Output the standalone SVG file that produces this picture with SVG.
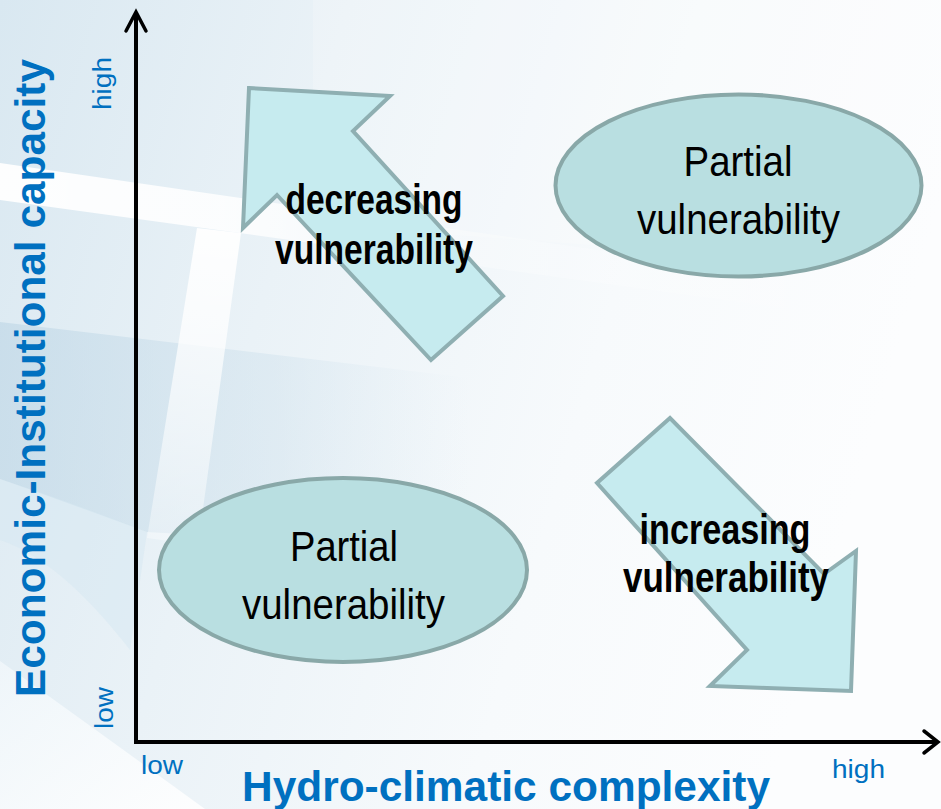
<svg xmlns="http://www.w3.org/2000/svg" width="941" height="809" viewBox="0 0 941 809">
  <defs>
    <linearGradient id="bgBase" x1="0" y1="0" x2="1" y2="0.25">
      <stop offset="0" stop-color="#D9E8F1"/>
      <stop offset="0.35" stop-color="#EAF2F7"/>
      <stop offset="0.7" stop-color="#F7FAFC"/>
      <stop offset="1" stop-color="#FCFDFE"/>
    </linearGradient>
    <linearGradient id="whiteBand" x1="0" y1="0" x2="1" y2="0">
      <stop offset="0" stop-color="#FFFFFF" stop-opacity="0.95"/>
      <stop offset="0.25" stop-color="#FFFFFF" stop-opacity="0.85"/>
      <stop offset="0.5" stop-color="#FFFFFF" stop-opacity="0.3"/>
      <stop offset="1" stop-color="#FFFFFF" stop-opacity="0"/>
    </linearGradient>
    <linearGradient id="whiteCol" x1="0" y1="0" x2="0" y2="1">
      <stop offset="0" stop-color="#FFFFFF" stop-opacity="0.95"/>
      <stop offset="1" stop-color="#FFFFFF" stop-opacity="0.35"/>
    </linearGradient>
    <linearGradient id="darkBand" x1="0" y1="0" x2="1" y2="0">
      <stop offset="0" stop-color="#BFD7E6" stop-opacity="0.65"/>
      <stop offset="0.6" stop-color="#C8DDEA" stop-opacity="0.35"/>
      <stop offset="1" stop-color="#D6E6F0" stop-opacity="0"/>
    </linearGradient>
    <linearGradient id="lightSweep" x1="0" y1="0" x2="1" y2="1">
      <stop offset="0" stop-color="#F4F9FC" stop-opacity="0.7"/>
      <stop offset="1" stop-color="#FFFFFF" stop-opacity="0.9"/>
    </linearGradient>
    <filter id="soft" x="-5%" y="-5%" width="110%" height="110%">
      <feGaussianBlur stdDeviation="0.6"/>
    </filter>
  </defs>

  <style>
    .axis { stroke: #000000; stroke-width: 4; fill: none; }
    .axis-head { stroke: #000000; stroke-width: 3.5; fill: none; stroke-linecap: round; stroke-linejoin: miter; }
    .block-arrow { fill: #C6EBEF; stroke: #8FAFB2; stroke-width: 4; stroke-linejoin: miter; }
    .region { fill: #B9DFE1; stroke: #89A8A8; stroke-width: 4; }
    .axis-title { font-family: "Liberation Sans", Arial, sans-serif; font-weight: bold; font-size: 42px; fill: #0070C0; }
    .tick { font-family: "Liberation Sans", Arial, sans-serif; font-size: 26px; fill: #0070C0; }
    .trend { font-family: "Liberation Sans Narrow", "Liberation Sans", Arial, sans-serif; font-weight: bold; font-size: 43px; fill: #000000; text-anchor: middle; }
    .region-label { font-family: "Liberation Sans Narrow", "Liberation Sans", Arial, sans-serif; font-size: 42px; fill: #000000; text-anchor: middle; }
  </style>

  <!-- decorative backdrop -->
  <g id="backdrop">
    <rect x="0" y="0" width="941" height="809" fill="url(#bgBase)"/>
    <!-- darker curved band on the left -->
    <path d="M0,322 L470,378 L470,560 Q300,540 147,532 Q60,500 0,479 Z" fill="url(#darkBand)"/>
    <path d="M0,479 Q80,505 147,532 L130,650 Q60,560 0,540 Z" fill="#D6E7F1" fill-opacity="0.5"/>
    <!-- light sweep at lower left -->
    <path d="M0,661 Q110,740 205,809 L0,809 Z" fill="url(#lightSweep)"/>
    <!-- pale horizontal and vertical bands -->
    <polygon points="0,163 941,300 941,330 0,200" fill="url(#whiteBand)"/>
    <polygon points="197,228 241,233 198,545 147,538" fill="url(#whiteCol)"/>
    <!-- upper-right light panel -->
    <polygon points="313,0 941,0 941,270 313,225" fill="#FFFFFF" fill-opacity="0.2"/>
  </g>

  <!-- axes -->
  <g id="axes">
    <line class="axis" x1="136" y1="12" x2="136" y2="744"/>
    <line class="axis" x1="134" y1="742" x2="938" y2="742"/>
    <polyline class="axis-head" points="126,31 136,12 146,31"/>
    <polyline class="axis-head" points="924,731 938,742 924,753"/>
  </g>

  <!-- axis labels -->
  <g id="labels">
    <text class="axis-title" transform="translate(45,697) rotate(-90)" textLength="638" lengthAdjust="spacingAndGlyphs">Economic-Institutional capacity</text>
    <text class="axis-title" x="242" y="801" textLength="528" lengthAdjust="spacingAndGlyphs">Hydro-climatic complexity</text>
    <text class="tick" transform="translate(111,110) rotate(-90)" textLength="53" lengthAdjust="spacingAndGlyphs">high</text>
    <text class="tick" transform="translate(113,729) rotate(-90)" textLength="42" lengthAdjust="spacingAndGlyphs">low</text>
    <text class="tick" x="141" y="774" textLength="42" lengthAdjust="spacingAndGlyphs">low</text>
    <text class="tick" x="832" y="778" textLength="53" lengthAdjust="spacingAndGlyphs">high</text>
  </g>

  <!-- trend arrows -->
  <g id="decreasing-vulnerability">
    <polygon class="block-arrow" filter="url(#soft)" points="249,88 390,96 353,131 503,296 431,360 277,195 243,228"/>
    <text class="trend" x="374" y="214" textLength="177" lengthAdjust="spacingAndGlyphs">decreasing</text>
    <text class="trend" x="374" y="264" textLength="198" lengthAdjust="spacingAndGlyphs">vulnerability</text>
  </g>

  <g id="increasing-vulnerability">
    <polygon class="block-arrow" filter="url(#soft)" points="670,418 597,483 747,650 710,686 851,691 856,551 824,574"/>
    <text class="trend" x="725" y="544" textLength="171" lengthAdjust="spacingAndGlyphs">increasing</text>
    <text class="trend" x="726" y="592" textLength="206" lengthAdjust="spacingAndGlyphs">vulnerability</text>
  </g>

  <!-- partial vulnerability regions -->
  <g id="partial-high">
    <ellipse class="region" cx="738.5" cy="185.5" rx="183" ry="91"/>
    <text class="region-label" x="738" y="176" textLength="109" lengthAdjust="spacingAndGlyphs">Partial</text>
    <text class="region-label" x="738.5" y="234" textLength="203" lengthAdjust="spacingAndGlyphs">vulnerability</text>
  </g>

  <g id="partial-low">
    <ellipse class="region" cx="343" cy="570" rx="184" ry="92"/>
    <text class="region-label" x="344" y="561" textLength="108" lengthAdjust="spacingAndGlyphs">Partial</text>
    <text class="region-label" x="343.5" y="619" textLength="203" lengthAdjust="spacingAndGlyphs">vulnerability</text>
  </g>
</svg>
